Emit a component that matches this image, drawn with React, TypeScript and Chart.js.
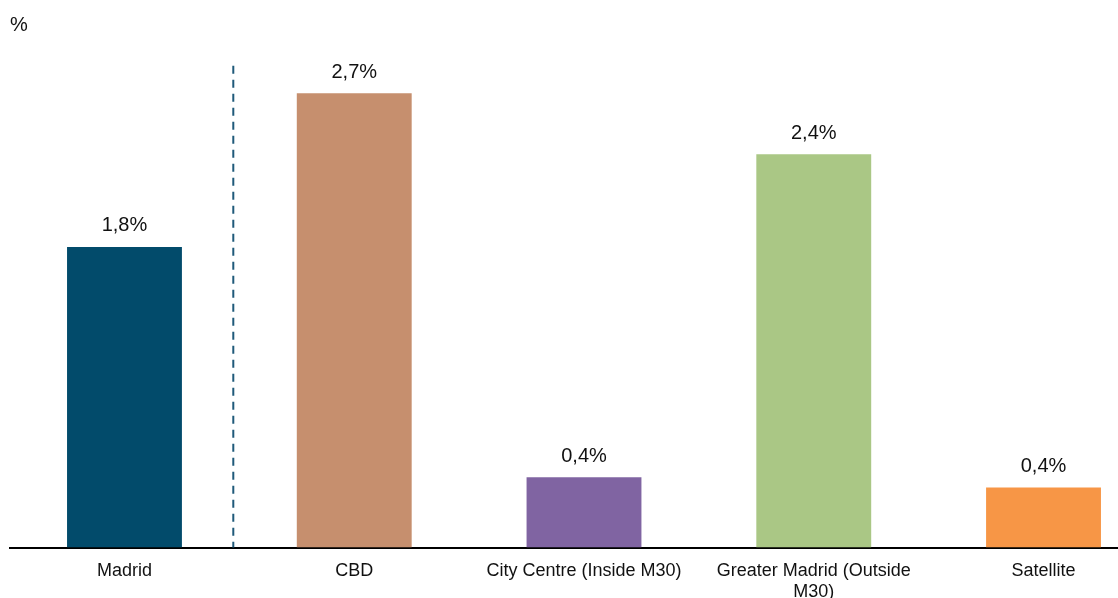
import React, { useEffect, useRef } from "react";
import { Chart, registerables } from "chart.js";

Chart.register(...registerables);

const categories = ["Madrid", "CBD", "City Centre (Inside M30)", "Greater Madrid (Outside M30)", "Satellite"];
const tickLabels: (string | string[])[] = ["Madrid", "CBD", "City Centre (Inside M30)", ["Greater Madrid (Outside", "M30)"], "Satellite"];
const values = [1.80, 2.72, 0.42, 2.355, 0.36];
const barColors = ["#024b6b", "#c68f6e", "#8064a2", "#aac785", "#f79646"];
const unitLabel = "%";
const dividerPosition = 0.4736; // in category units, between Madrid and CBD
const dividerTop = 2.885; // in value units

const FONT = "'Liberation Sans', Arial, sans-serif";

const overlayPlugin = {
  id: "overlay",
  afterDatasetsDraw(chart: any) {
    const ctx = chart.ctx;
    const meta = chart.getDatasetMeta(0);
    const xs = chart.scales.x;
    const ys = chart.scales.y;
    ctx.save();
    // value labels
    ctx.font = `20px ${FONT}`;
    ctx.fillStyle = "#111111";
    ctx.textAlign = "center";
    ctx.textBaseline = "alphabetic";
    meta.data.forEach((bar: any, i: number) => {
      const txt = values[i].toFixed(1).replace(".", ",") + "%";
      ctx.fillText(txt, bar.x, bar.y - 15.5);
    });
    // unit label
    ctx.textAlign = "left";
    ctx.fillText(unitLabel, 10, 30.5);
    // divider
    const x = xs.getPixelForValue(dividerPosition);
    ctx.strokeStyle = "#1f5a7a";
    ctx.lineWidth = 2;
    ctx.setLineDash([8, 6]);
    ctx.beginPath();
    ctx.moveTo(x, ys.getPixelForValue(dividerTop));
    ctx.lineTo(x, ys.getPixelForValue(0));
    ctx.stroke();
    ctx.restore();
  },
};

export default function App() {
  const ref = useRef<HTMLCanvasElement | null>(null);
  useEffect(() => {
    if (!ref.current) return;
    const chart = new Chart(ref.current, {
      type: "bar",
      data: {
        labels: tickLabels as any,
        datasets: [
          {
            label: "Value",
            data: values,
            backgroundColor: barColors,
            borderWidth: 0,
            categoryPercentage: 1,
            barPercentage: 0.5,
          },
        ],
      },
      options: {
        animation: false,
        responsive: true,
        maintainAspectRatio: false,
        layout: { padding: { left: 9.6, right: 1.6, top: 46.5, bottom: 0 } },
        plugins: {
          legend: { display: false },
          tooltip: { enabled: false },
        },
        scales: {
          x: {
            grid: { display: false },
            border: { display: true, color: "#000000", width: 2 },
            ticks: {
              color: "#111111",
              font: { family: FONT, size: 18, lineHeight: 1.167 },
              padding: 5,
              autoSkip: false,
              maxRotation: 0,
              minRotation: 0,
            },
            afterFit: (scale: any) => {
              scale.height = 50.5;
            },
          },
          y: {
            display: false,
            min: 0,
            max: 3,
          },
        },
      },
      plugins: [overlayPlugin],
    });
    return () => chart.destroy();
  }, []);

  return (
    <div style={{ position: "absolute", left: 0, top: 0, width: 1118, height: 598, overflow: "hidden", background: "#fff" }}>
      <div style={{ position: "relative", width: 1160, height: 598 }}>
        <canvas ref={ref} aria-label={categories.join(", ")} />
      </div>
    </div>
  );
}
